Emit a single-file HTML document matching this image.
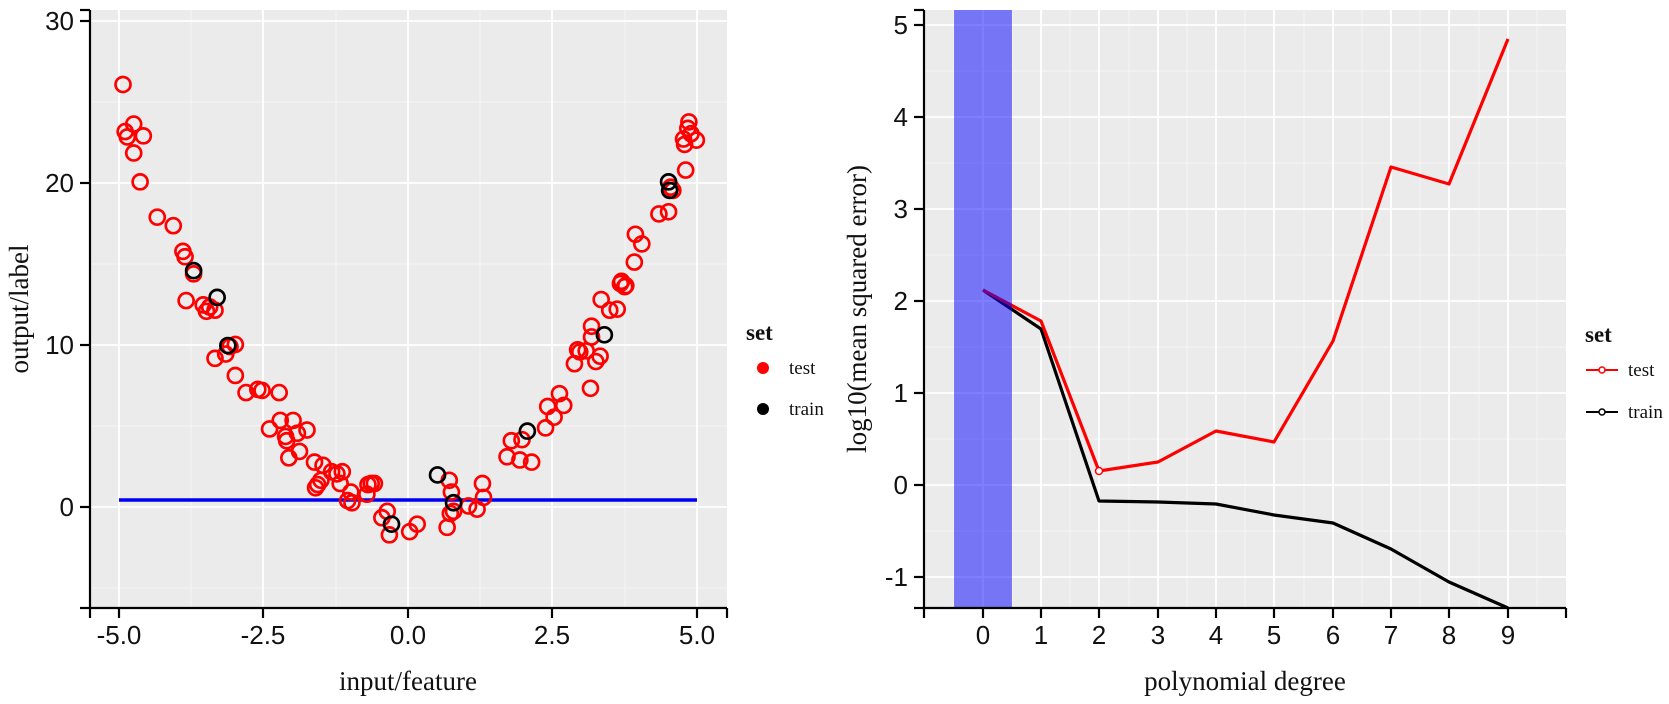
<!DOCTYPE html>
<html><head><meta charset="utf-8"><style>
html,body{margin:0;padding:0;background:#fff;}
svg{display:block;}
.tk{font-family:"Liberation Sans",sans-serif;font-size:26px;fill:#111;}
.lab{font-family:"Liberation Serif",serif;font-size:27px;fill:#111;}
.lg{font-family:"Liberation Serif",serif;font-size:19px;fill:#111;}
.lgt{font-family:"Liberation Serif",serif;font-size:23px;font-weight:bold;fill:#111;}
</style></head><body>
<svg width="1669" height="704" viewBox="0 0 1669 704" xmlns="http://www.w3.org/2000/svg">
<!-- LEFT PANEL -->
<rect x="90" y="10" width="637" height="598" fill="#ebebeb"/>
<g stroke="#f5f5f5" stroke-width="1">
<line x1="191" y1="10" x2="191" y2="608"/><line x1="336" y1="10" x2="336" y2="608"/><line x1="480" y1="10" x2="480" y2="608"/><line x1="625" y1="10" x2="625" y2="608"/>
<line x1="90" y1="588" x2="727" y2="588"/><line x1="90" y1="426" x2="727" y2="426"/><line x1="90" y1="264" x2="727" y2="264"/><line x1="90" y1="102" x2="727" y2="102"/>
</g>
<g stroke="#ffffff" stroke-width="1.8">
<line x1="119" y1="10" x2="119" y2="608"/><line x1="263" y1="10" x2="263" y2="608"/><line x1="408" y1="10" x2="408" y2="608"/><line x1="552" y1="10" x2="552" y2="608"/><line x1="697" y1="10" x2="697" y2="608"/>
<line x1="90" y1="507" x2="727" y2="507"/><line x1="90" y1="345" x2="727" y2="345"/><line x1="90" y1="183" x2="727" y2="183"/><line x1="90" y1="21" x2="727" y2="21"/>
</g>
<line x1="119" y1="500" x2="697" y2="500" stroke="#0000ee" stroke-width="3.5"/>
<g transform="scale(1.0697)" fill="none" stroke="#ff0000" stroke-width="2.5">
<circle cx="115" cy="79" r="7"/><circle cx="117" cy="123" r="7"/><circle cx="119" cy="128" r="7"/><circle cx="125" cy="116" r="7"/><circle cx="125" cy="143" r="7"/><circle cx="134" cy="127" r="7"/><circle cx="131" cy="170" r="7"/><circle cx="147" cy="203" r="7"/><circle cx="162" cy="211" r="7"/><circle cx="171" cy="235" r="7"/><circle cx="173" cy="240" r="7"/><circle cx="181" cy="256" r="7"/><circle cx="174" cy="281" r="7"/><circle cx="190" cy="285" r="7"/><circle cx="193" cy="291" r="7"/><circle cx="196" cy="287" r="7"/><circle cx="201" cy="290" r="7"/><circle cx="201" cy="335" r="7"/><circle cx="211" cy="331" r="7"/><circle cx="215" cy="324" r="7"/><circle cx="220" cy="322" r="7"/><circle cx="220" cy="351" r="7"/><circle cx="230" cy="367" r="7"/><circle cx="241" cy="364" r="7"/><circle cx="245" cy="365" r="7"/><circle cx="261" cy="367" r="7"/><circle cx="252" cy="401" r="7"/><circle cx="262" cy="393" r="7"/><circle cx="267" cy="408" r="7"/><circle cx="268" cy="412" r="7"/><circle cx="274" cy="393" r="7"/><circle cx="278" cy="405" r="7"/><circle cx="270" cy="428" r="7"/><circle cx="280" cy="422" r="7"/><circle cx="287" cy="402" r="7"/><circle cx="294" cy="432" r="7"/><circle cx="295" cy="456" r="7"/><circle cx="297" cy="453" r="7"/><circle cx="300" cy="449" r="7"/><circle cx="302" cy="435" r="7"/><circle cx="310" cy="441" r="7"/><circle cx="315" cy="443" r="7"/><circle cx="318" cy="452" r="7"/><circle cx="320" cy="441" r="7"/><circle cx="325" cy="468" r="7"/><circle cx="328" cy="460" r="7"/><circle cx="329" cy="470" r="7"/><circle cx="344" cy="453" r="7"/><circle cx="347" cy="452" r="7"/><circle cx="350" cy="452" r="7"/><circle cx="343" cy="462" r="7"/><circle cx="357" cy="484" r="7"/><circle cx="362" cy="478" r="7"/><circle cx="364" cy="500" r="7"/><circle cx="383" cy="497" r="7"/><circle cx="390" cy="490" r="7"/><circle cx="420" cy="449" r="7"/><circle cx="422" cy="460" r="7"/><circle cx="421" cy="480" r="7"/><circle cx="418" cy="493" r="7"/><circle cx="424" cy="478" r="7"/><circle cx="438" cy="473" r="7"/><circle cx="446" cy="476" r="7"/><circle cx="451" cy="452" r="7"/><circle cx="452" cy="465" r="7"/><circle cx="474" cy="427" r="7"/><circle cx="478" cy="412" r="7"/><circle cx="486" cy="430" r="7"/><circle cx="488" cy="411" r="7"/><circle cx="497" cy="432" r="7"/><circle cx="510" cy="400" r="7"/><circle cx="512" cy="380" r="7"/><circle cx="518" cy="390" r="7"/><circle cx="523" cy="368" r="7"/><circle cx="527" cy="379" r="7"/><circle cx="537" cy="340" r="7"/><circle cx="540" cy="327" r="7"/><circle cx="542" cy="329" r="7"/><circle cx="548" cy="328" r="7"/><circle cx="552" cy="363" r="7"/><circle cx="553" cy="305" r="7"/><circle cx="553" cy="315" r="7"/><circle cx="557" cy="338" r="7"/><circle cx="561" cy="333" r="7"/><circle cx="562" cy="280" r="7"/><circle cx="570" cy="290" r="7"/><circle cx="580" cy="265" r="7"/><circle cx="577" cy="289" r="7"/><circle cx="581" cy="263" r="7"/><circle cx="584" cy="268" r="7"/><circle cx="585" cy="267" r="7"/><circle cx="593" cy="245" r="7"/><circle cx="594" cy="219" r="7"/><circle cx="600" cy="228" r="7"/><circle cx="616" cy="200" r="7"/><circle cx="625" cy="198" r="7"/><circle cx="627" cy="175" r="7"/><circle cx="629" cy="178" r="7"/><circle cx="639" cy="130" r="7"/><circle cx="641" cy="159" r="7"/><circle cx="640" cy="135" r="7"/><circle cx="643" cy="120" r="7"/><circle cx="644" cy="114" r="7"/><circle cx="646" cy="125" r="7"/><circle cx="651" cy="131" r="7"/>
</g>
<g transform="scale(1.0697)" fill="none" stroke="#000" stroke-width="2.5">
<circle cx="181" cy="253" r="7"/><circle cx="203" cy="278" r="7"/><circle cx="213" cy="323" r="7"/><circle cx="366" cy="490" r="7"/><circle cx="409" cy="444" r="7"/><circle cx="424" cy="470" r="7"/><circle cx="493" cy="403" r="7"/><circle cx="565" cy="313" r="7"/><circle cx="625" cy="170" r="7"/><circle cx="626" cy="178" r="7"/>
</g>
<g stroke="#000" stroke-width="2.2">
<line x1="90" y1="10" x2="90" y2="609"/><line x1="89" y1="608" x2="727" y2="608"/>
<line x1="80" y1="10" x2="90" y2="10"/><line x1="80" y1="21" x2="90" y2="21"/><line x1="80" y1="183" x2="90" y2="183"/><line x1="80" y1="345" x2="90" y2="345"/><line x1="80" y1="507" x2="90" y2="507"/><line x1="80" y1="608" x2="90" y2="608"/>
<line x1="90" y1="608" x2="90" y2="618"/><line x1="119" y1="608" x2="119" y2="618"/><line x1="263" y1="608" x2="263" y2="618"/><line x1="408" y1="608" x2="408" y2="618"/><line x1="552" y1="608" x2="552" y2="618"/><line x1="697" y1="608" x2="697" y2="618"/><line x1="727" y1="608" x2="727" y2="618"/>
</g>
<g class="tk" text-anchor="end"><text x="74" y="30">30</text><text x="74" y="192">20</text><text x="74" y="354">10</text><text x="74" y="516">0</text></g>
<g class="tk" text-anchor="middle"><text x="119" y="644">-5.0</text><text x="263" y="644">-2.5</text><text x="408" y="644">0.0</text><text x="552" y="644">2.5</text><text x="697" y="644">5.0</text></g>
<text class="lab" x="408" y="690" text-anchor="middle">input/feature</text>
<text class="lab" transform="translate(28,309) rotate(-90)" text-anchor="middle">output/label</text>
<text class="lgt" x="746" y="340">set</text>
<circle cx="763" cy="368" r="6" fill="#ff0000"/><circle cx="763" cy="409" r="6" fill="#000"/>
<text class="lg" x="789" y="374">test</text><text class="lg" x="789" y="415">train</text>

<!-- RIGHT PANEL -->
<rect x="924" y="10" width="642" height="598" fill="#ebebeb"/>
<g stroke="#f5f5f5" stroke-width="1">
<line x1="954" y1="10" x2="954" y2="608"/><line x1="1012" y1="10" x2="1012" y2="608"/><line x1="1070" y1="10" x2="1070" y2="608"/><line x1="1129" y1="10" x2="1129" y2="608"/><line x1="1187" y1="10" x2="1187" y2="608"/><line x1="1245" y1="10" x2="1245" y2="608"/><line x1="1304" y1="10" x2="1304" y2="608"/><line x1="1362" y1="10" x2="1362" y2="608"/><line x1="1420" y1="10" x2="1420" y2="608"/><line x1="1479" y1="10" x2="1479" y2="608"/><line x1="1537" y1="10" x2="1537" y2="608"/>
<line x1="924" y1="531" x2="1566" y2="531"/><line x1="924" y1="439" x2="1566" y2="439"/><line x1="924" y1="347" x2="1566" y2="347"/><line x1="924" y1="255" x2="1566" y2="255"/><line x1="924" y1="163" x2="1566" y2="163"/><line x1="924" y1="71" x2="1566" y2="71"/>
</g>
<g stroke="#ffffff" stroke-width="1.8">
<line x1="983" y1="10" x2="983" y2="608"/><line x1="1041" y1="10" x2="1041" y2="608"/><line x1="1099" y1="10" x2="1099" y2="608"/><line x1="1158" y1="10" x2="1158" y2="608"/><line x1="1216" y1="10" x2="1216" y2="608"/><line x1="1274" y1="10" x2="1274" y2="608"/><line x1="1333" y1="10" x2="1333" y2="608"/><line x1="1391" y1="10" x2="1391" y2="608"/><line x1="1449" y1="10" x2="1449" y2="608"/><line x1="1508" y1="10" x2="1508" y2="608"/>
<line x1="924" y1="577" x2="1566" y2="577"/><line x1="924" y1="485" x2="1566" y2="485"/><line x1="924" y1="393" x2="1566" y2="393"/><line x1="924" y1="301" x2="1566" y2="301"/><line x1="924" y1="209" x2="1566" y2="209"/><line x1="924" y1="117" x2="1566" y2="117"/><line x1="924" y1="25" x2="1566" y2="25"/>
</g>
<polyline fill="none" stroke="#000" stroke-width="3.2" stroke-linejoin="round" points="983,290 1041,329 1099,501 1158,502 1216,504 1274,515 1333,523 1391,549 1449,582 1508,608"/>
<polyline fill="none" stroke="#ff0000" stroke-width="3.2" stroke-linejoin="round" points="983,290 1041,321 1099,471 1158,462 1216,431 1274,442 1333,341 1391,167 1449,184 1508,39"/>
<circle cx="1099" cy="471" r="3.5" fill="#fff" stroke="#ff0000" stroke-width="1.5"/>
<rect x="954" y="10" width="58" height="598" fill="#0000ff" fill-opacity="0.5"/>
<g stroke="#000" stroke-width="2.2">
<line x1="924" y1="10" x2="924" y2="609"/><line x1="923" y1="608" x2="1566" y2="608"/>
<line x1="914" y1="10" x2="924" y2="10"/><line x1="914" y1="25" x2="924" y2="25"/><line x1="914" y1="117" x2="924" y2="117"/><line x1="914" y1="209" x2="924" y2="209"/><line x1="914" y1="301" x2="924" y2="301"/><line x1="914" y1="393" x2="924" y2="393"/><line x1="914" y1="485" x2="924" y2="485"/><line x1="914" y1="577" x2="924" y2="577"/><line x1="914" y1="608" x2="924" y2="608"/>
<line x1="924" y1="608" x2="924" y2="618"/><line x1="983" y1="608" x2="983" y2="618"/><line x1="1041" y1="608" x2="1041" y2="618"/><line x1="1099" y1="608" x2="1099" y2="618"/><line x1="1158" y1="608" x2="1158" y2="618"/><line x1="1216" y1="608" x2="1216" y2="618"/><line x1="1274" y1="608" x2="1274" y2="618"/><line x1="1333" y1="608" x2="1333" y2="618"/><line x1="1391" y1="608" x2="1391" y2="618"/><line x1="1449" y1="608" x2="1449" y2="618"/><line x1="1508" y1="608" x2="1508" y2="618"/><line x1="1566" y1="608" x2="1566" y2="618"/>
</g>
<g class="tk" text-anchor="end"><text x="908" y="34">5</text><text x="908" y="126">4</text><text x="908" y="218">3</text><text x="908" y="310">2</text><text x="908" y="402">1</text><text x="908" y="494">0</text><text x="908" y="586">-1</text></g>
<g class="tk" text-anchor="middle"><text x="983" y="644">0</text><text x="1041" y="644">1</text><text x="1099" y="644">2</text><text x="1158" y="644">3</text><text x="1216" y="644">4</text><text x="1274" y="644">5</text><text x="1333" y="644">6</text><text x="1391" y="644">7</text><text x="1449" y="644">8</text><text x="1508" y="644">9</text></g>
<text class="lab" x="1245" y="690" text-anchor="middle">polynomial degree</text>
<text class="lab" transform="translate(866,309) rotate(-90)" text-anchor="middle">log10(mean squared error)</text>
<text class="lgt" x="1585" y="342">set</text>
<line x1="1586" y1="370" x2="1618" y2="370" stroke="#ff0000" stroke-width="2"/><circle cx="1602" cy="370" r="3" fill="#fff" stroke="#ff0000" stroke-width="1.5"/>
<line x1="1586" y1="412" x2="1618" y2="412" stroke="#000" stroke-width="2"/><circle cx="1602" cy="412" r="3" fill="#fff" stroke="#000" stroke-width="1.5"/>
<text class="lg" x="1628" y="376">test</text><text class="lg" x="1628" y="418">train</text>
</svg>
</body></html>
